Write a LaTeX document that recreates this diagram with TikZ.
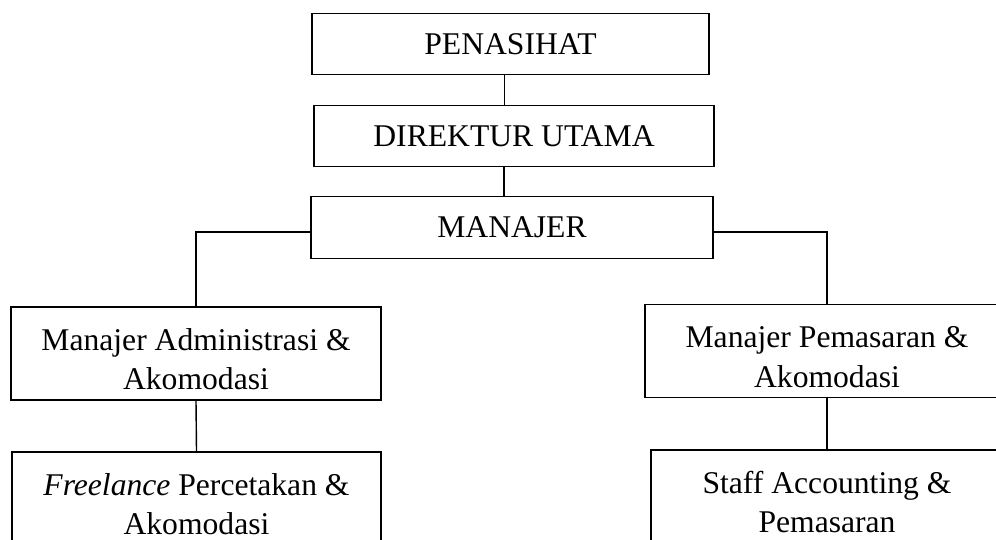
\documentclass[tikz,border=0pt]{standalone}
\usepackage{fontspec}
\setmainfont{Liberation Serif}
\usepackage{tikz}
\newcommand{\toprow}{\rule{0pt}{19pt}}
\tikzset{
  orgbox/.style  = {draw,line width=0.8pt,align=center,inner sep=0pt,
                    font=\fontsize{18}{22.7}\selectfont},
  onerow/.style  = {orgbox,minimum height=1.23cm},
  tworow/.style  = {orgbox,minimum height=1.86cm},
  link/.style    = {line width=0.8pt}
}
\begin{document}
\begin{tikzpicture}[x=0.02cm,y=-0.02cm]
  \useasboundingbox (0,0) rectangle (996,540);
  \clip (0,0) rectangle (996,540);
  % top chain
  \node[onerow,minimum width=7.94cm] (pen) at (510.5,44)  {PENASIHAT};
  \node[onerow,minimum width=8.00cm] (dir) at (514,136)   {DIREKTUR UTAMA};
  \node[onerow,minimum width=8.04cm] (man) at (512,227.5) {MANAJER};
  % branches
  \node[tworow,minimum width=7.40cm] (adm) at (196,353.5) {\toprow Manajer Administrasi \&\\Akomodasi};
  \node[tworow,minimum width=7.38cm] (fre) at (196.5,498.5) {\toprow\textit{Freelance} Percetakan \&\\Akomodasi};
  \node[tworow,minimum width=7.28cm] (pem) at (827,351)   {\toprow Manajer Pemasaran \&\\Akomodasi};
  \node[tworow,minimum width=7.04cm] (stf) at (827,496.5) {\toprow Staff Accounting \&\\Pemasaran};
  % connectors
  \draw[link] ([xshift=-0.12cm]pen.south) -- ([xshift=-0.12cm]pen.south |- dir.north);
  \draw[link] ([xshift=-0.2cm]dir.south) -- ([xshift=-0.2cm]dir.south |- man.north);
  \draw[link] ([yshift=-0.09cm]man.west) -| (adm.north);
  \draw[link] ([yshift=-0.09cm]man.east) -| (pem.north);
  \draw[link] (adm.south) -- (fre.north);
  \draw[link] (pem.south) -- (stf.north);
\end{tikzpicture}
\end{document}
